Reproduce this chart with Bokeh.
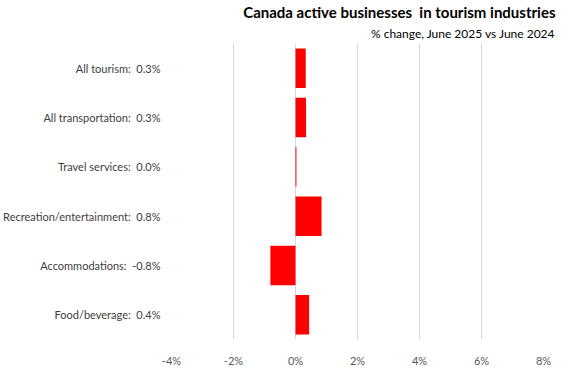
from bokeh.plotting import figure
from bokeh.models import FactorRange, FixedTicker, Title, Range1d
from bokeh.embed import file_html
from bokeh.resources import INLINE

# ---- data ----
categories = ["All tourism", "All transportation", "Travel services",
              "Recreation/entertainment", "Accommodations", "Food/beverage"]
values = [0.33, 0.34, 0.03, 0.84, -0.81, 0.44]
x_ticks = [-4, -2, 0, 2, 4, 6, 8]
x_tick_labels = ["-4%", "-2%", "0%", "2%", "4%", "6%", "8%"]
title_text = "Canada active businesses\u00a0 in tourism industries"
subtitle_text = "% change, June 2025 vs June 2024"

labels = [f"{c}:\u00a0 {v:.1f}%" for c, v in zip(categories, values)]

FONT = "Lato"

p = figure(width=561, height=369, output_backend="svg", toolbar_location=None,
           y_range=FactorRange(*reversed(labels)), x_range=Range1d(-4, 8),
           min_border_left=0, min_border_right=18, min_border_bottom=22,
           min_border_top=0)

p.hbar(y=labels, right=values, left=0, height=0.8, color="#ff0000", line_color=None)

p.outline_line_color = None
p.background_fill_color = "white"
p.border_fill_color = "white"

# x axis
p.xaxis.ticker = FixedTicker(ticks=x_ticks)
p.xaxis.major_label_overrides = {t: l for t, l in zip(x_ticks, x_tick_labels)}
p.xaxis.axis_line_color = None
p.xaxis.major_tick_line_color = None
p.xaxis.minor_tick_line_color = None
p.xaxis.major_label_text_font = FONT
p.xaxis.major_label_text_font_size = "11px"
p.xaxis.major_label_text_color = "#595959"
p.xaxis.major_label_standoff = 8

# y axis
p.yaxis.axis_line_color = None
p.yaxis.major_tick_line_color = None
p.yaxis.minor_tick_line_color = None
p.yaxis.major_label_text_font = FONT
p.yaxis.major_label_text_font_size = "11px"
p.yaxis.major_label_text_color = "#404040"
p.yaxis.major_label_standoff = 5

# grid
p.xgrid.grid_line_color = "#d9d9d9"
p.xgrid.ticker = FixedTicker(ticks=x_ticks)
p.ygrid.grid_line_color = None

# titles (subtitle first, so it sits closer to the plot)
p.add_layout(Title(text=subtitle_text, align="right", text_font=FONT,
                   text_font_size="12px", text_font_style="normal",
                   text_color="#000000", offset=-12, standoff=6), "above")
p.add_layout(Title(text=title_text, align="right", text_font=FONT,
                   text_font_size="15px", text_font_style="bold",
                   text_color="#000000", offset=-12, standoff=0), "above")

open("out.html", "w").write(file_html(p, INLINE))
